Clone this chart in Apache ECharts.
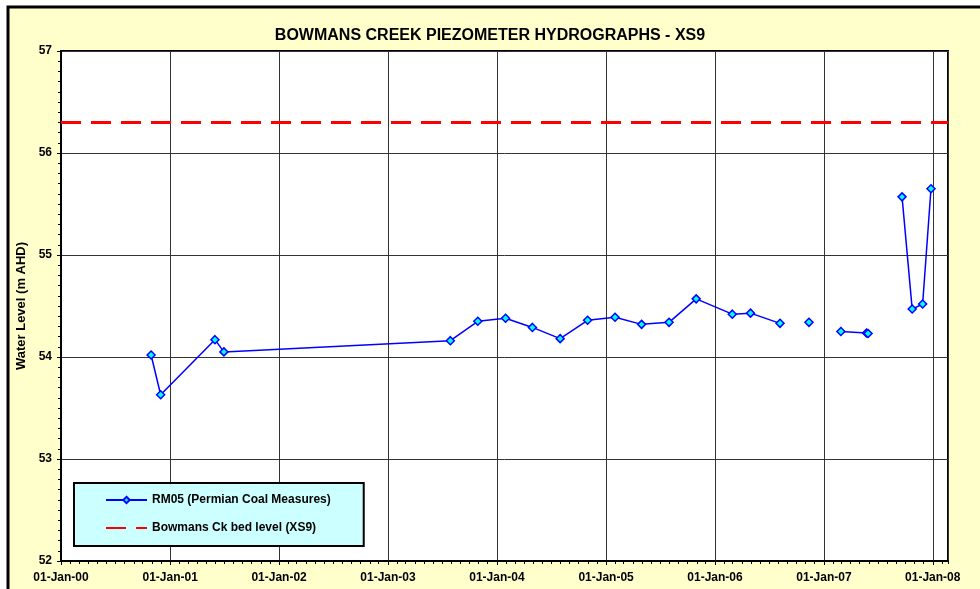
<!DOCTYPE html>
<html lang="en">
<head>
<meta charset="utf-8">
<script src="https://cdn.jsdelivr.net/npm/echarts@6.0.0/dist/echarts.min.js"></script>
<style>
  html, body { margin: 0; padding: 0; background: #fff; }
  #chart { width: 980px; height: 589px; }
</style>
</head>
<body>
<div id="chart"></div>

<script type="text/javascript">
    // RM05 readings (null = break in the line, placed at the next reading's date)
    var dates = [
        '2000-10-29', '2000-11-30', '2001-05-31', '2001-06-30',
        '2003-07-29', '2003-10-29', '2004-01-30', '2004-04-29',
        '2004-07-31', '2004-10-31', '2005-01-31', '2005-04-30',
        '2005-07-31', '2005-10-30', '2006-02-28', '2006-04-30',
        '2006-08-07', '2006-11-12', '2006-11-12', '2007-02-27',
        '2007-02-27', '2007-05-24', '2007-05-29', '2007-09-20',
        '2007-09-20', '2007-10-24', '2007-11-28', '2007-12-26'
    ];
    var levels = [
        54.02, 53.63, 54.17, 54.05,
        54.16, 54.35, 54.38, 54.29,
        54.18, 54.36, 54.39, 54.32,
        54.34, 54.57, 54.42, 54.43,
        54.33, null, 54.34, null,
        54.25, 54.235, 54.23, null,
        55.57, 54.47, 54.52, 55.65
    ];

    var bedDates = ['2000-01-01', '2008-02-21'];
    var bedLevel = [56.3, 56.3];

    var xMin = '2000-01-01';
    var xMax = '2008-02-21';
    var yMin = 52, yMax = 57, yStep = 1;

    var rm05 = dates.map(function (d, i) { return [d, levels[i]]; });
    var bed = bedDates.map(function (d, i) { return [d, bedLevel[i]]; });

    var font = 'Liberation Sans, Arial, sans-serif';
    var months = ['Jan','Feb','Mar','Apr','May','Jun','Jul','Aug','Sep','Oct','Nov','Dec'];
    function fmtDate(v) {
        var d = new Date(v);
        var dd = ('0' + d.getDate()).slice(-2);
        var yy = ('0' + (d.getFullYear() % 100)).slice(-2);
        return dd + '-' + months[d.getMonth()] + '-' + yy;
    }

    var myChart = echarts.init(document.getElementById('chart'));

    var option = {
        backgroundColor: '#ffffff',
        animation: false,
        graphic: [{
            type: 'rect',
            z: -10,
            silent: true,
            shape: { x: 8, y: 7, width: 1000, height: 1000 },
            style: { fill: '#ffffcc', stroke: '#000', lineWidth: 3 }
        }],
        title: {
            text: 'BOWMANS CREEK PIEZOMETER HYDROGRAPHS - XS9',
            left: 'center',
            top: 23,
            textStyle: { fontFamily: font, fontSize: 16, fontWeight: 'bold', color: '#000' }
        },
        legend: {
            orient: 'vertical',
            left: 74,
            top: 483,
            padding: [11, 33, 12, 31],
            itemWidth: 41,
            itemHeight: 8,
            itemGap: 16,
            backgroundColor: '#ccffff',
            borderColor: '#000',
            borderWidth: 2,
            textStyle: { fontFamily: font, fontSize: 12, fontWeight: 'bold', color: '#000' },
            data: [
                { name: 'RM05 (Permian Coal Measures)' },
                { name: 'Bowmans Ck bed level (XS9)', itemStyle: { opacity: 0 } }
            ]
        },
        grid: {
            left: 61,
            top: 51,
            width: 887,
            height: 510,
            show: true,
            backgroundColor: '#ffffff',
            borderColor: '#000',
            borderWidth: 2
        },
        xAxis: [{
            type: 'time',
            min: xMin,
            max: xMax,
            splitNumber: 8,
            position: 'bottom',
            axisLine: { lineStyle: { color: '#000', width: 2 } },
            axisTick: { show: true, length: 4, lineStyle: { color: '#000' } },
            splitLine: { show: true, lineStyle: { color: '#333', width: 1 } },
            axisLabel: {
                formatter: fmtDate,
                margin: 11,
                fontFamily: font,
                fontSize: 12,
                fontWeight: 'bold',
                color: '#000'
            }
        }, {
            // monthly minor ticks
            type: 'time',
            min: xMin,
            max: xMax,
            splitNumber: 98,
            position: 'bottom',
            axisLine: { show: false },
            axisTick: { show: true, length: 3, lineStyle: { color: '#000' } },
            splitLine: { show: false },
            axisLabel: { show: false }
        }],
        yAxis: {
            type: 'value',
            min: yMin,
            max: yMax,
            interval: yStep,
            name: 'Water Level (m AHD)',
            nameLocation: 'middle',
            nameGap: 31,
            nameTextStyle: { fontFamily: font, fontSize: 13, fontWeight: 'bold', color: '#000' },
            axisLine: { show: true, lineStyle: { color: '#000', width: 2 } },
            axisTick: { show: true, length: 4, lineStyle: { color: '#000' } },
            minorTick: { show: true, splitNumber: 10, length: 3, lineStyle: { color: '#000' } },
            splitLine: { show: true, lineStyle: { color: '#333', width: 1 } },
            axisLabel: {
                margin: 9,
                fontFamily: font,
                fontSize: 12,
                fontWeight: 'bold',
                color: '#000'
            }
        },
        series: [{
            name: 'RM05 (Permian Coal Measures)',
            type: 'line',
            data: rm05,
            connectNulls: false,
            symbol: 'diamond',
            symbolSize: 8,
            showAllSymbol: true,
            lineStyle: { color: '#0000ff', width: 1.5 },
            itemStyle: { color: '#00ffff', borderColor: '#0000ff', borderWidth: 1.5 },
            z: 3
        }, {
            name: 'Bowmans Ck bed level (XS9)',
            type: 'line',
            data: bed,
            symbol: 'none',
            lineStyle: { color: '#ff0000', width: 3, type: [20, 10] },
            itemStyle: { color: '#ff0000' },
            z: 2
        }]
    };

    myChart.setOption(option);
</script>
</body>
</html>
